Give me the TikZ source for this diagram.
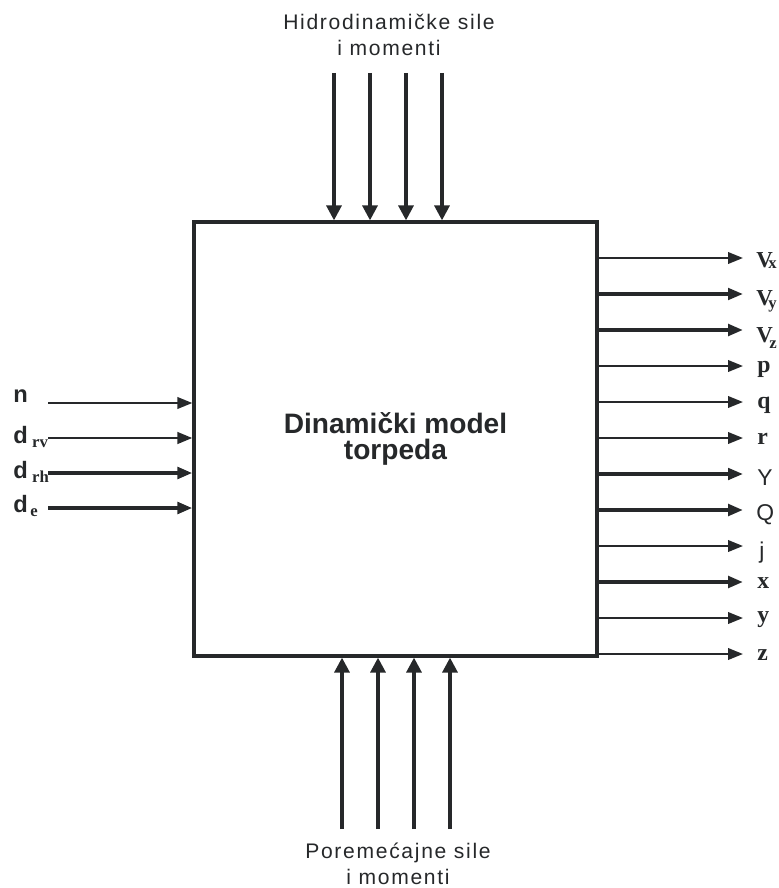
\documentclass[tikz,border=0pt]{standalone}
\usepackage{fontspec}
\setmainfont{Liberation Serif}
\setsansfont{Liberation Sans}
\newfontfamily\capfont[LetterSpace=8]{Liberation Sans}
\usetikzlibrary{arrows.meta,positioning}
\definecolor{ink}{RGB}{38,40,42}
\newcommand{\insub}[1]{\raisebox{-2.5pt}{\rmfamily\bfseries\fontsize{9.5}{9.5}\selectfont #1}}
\newcommand{\outsub}[1]{{\rmfamily\bfseries\fontsize{9.5}{9.5}\selectfont #1}}

\begin{document}
\begin{tikzpicture}[x=0.02cm,y=-0.02cm,
  sig/.style={draw=ink,line width=1.3pt,-{Triangle[length=8.5pt,width=6.5pt]}},
  sigm/.style={sig,line width=1.9pt},
  sigb/.style={sig,line width=2.5pt},
  force/.style={draw=ink,line width=1.9pt,-{Triangle[length=8.5pt,width=8.5pt]}},
  caption/.style={align=center,text=ink,font=\capfont\fontsize{12}{15}\selectfont},
  inlbl/.style={anchor=base west,text=ink,inner sep=0pt,font=\sffamily\bfseries\fontsize{13.5}{14}\selectfont},
  outlbl/.style={anchor=base west,text=ink,inner sep=0pt,font=\rmfamily\bfseries\fontsize{13.5}{14}\selectfont},
  outsym/.style={anchor=base west,text=ink,inner sep=0pt,font=\sffamily\fontsize{13}{14}\selectfont}]
  \useasboundingbox (0,0) rectangle (778,888);
  \node[draw=ink,line width=1.9pt,minimum width=8.06cm,minimum height=8.68cm,align=center,text=ink,
        font=\sffamily\bfseries\fontsize{16}{15}\selectfont] (model) at (395.5,439) {Dinamički model\\torpeda};
  % forces on top and bottom
  \node[caption] (hydro) at (389,35) {Hidrodinamičke sile\\i momenti};
  \node[caption] (dist) at (398,864) {Poremećajne sile\\i momenti};
  \coordinate (h1) at (334,73);  \coordinate (h2) at (370,73);
  \coordinate (h3) at (406,73);  \coordinate (h4) at (442,73);
  \draw[force] (h1) -- (h1 |- model.north);  \draw[force] (h2) -- (h2 |- model.north);
  \draw[force] (h3) -- (h3 |- model.north);  \draw[force] (h4) -- (h4 |- model.north);
  \coordinate (p1) at (342,829);  \coordinate (p2) at (378,829);
  \coordinate (p3) at (414,829);  \coordinate (p4) at (450,829);
  \draw[force] (p1) -- (p1 |- model.south);  \draw[force] (p2) -- (p2 |- model.south);
  \draw[force] (p3) -- (p3 |- model.south);  \draw[force] (p4) -- (p4 |- model.south);
  % inputs
  \node[inlbl] (ln) at (13,402) {n};
  \node[inlbl] (ldrv) at (13,443) {d\hspace{2.5pt}\insub{rv}};
  \node[inlbl] (ldrh) at (13,478) {d\hspace{2.5pt}\insub{rh}};
  \node[inlbl] (lde) at (13,512) {d\hspace{1.5pt}\insub{e}};
  \coordinate (i1) at (48,403);  \coordinate (i2) at (48,438);
  \coordinate (i3) at (48,473);  \coordinate (i4) at (48,508);
  \draw[sig] (i1) -- (i1 -| model.west);   \draw[sig,line width=1.6pt] (i2) -- (i2 -| model.west);
  \draw[sigb] (i3) -- (i3 -| model.west);  \draw[sigb] (i4) -- (i4 -| model.west);
  % outputs
  \coordinate (o1) at (743,258);  \coordinate (o2) at (743,294);  \coordinate (o3) at (743,330);
  \coordinate (o4) at (743,366);  \coordinate (o5) at (743,402);  \coordinate (o6) at (743,438);
  \coordinate (o7) at (743,474);  \coordinate (o8) at (743,510);  \coordinate (o9) at (743,546);
  \coordinate (o10) at (743,582); \coordinate (o11) at (743,618); \coordinate (o12) at (743,654);
  \draw[sig] (model.east |- o1) -- (o1);    \draw[sigm] (model.east |- o2) -- (o2);
  \draw[sigb] (model.east |- o3) -- (o3);   \draw[sig] (model.east |- o4) -- (o4);
  \draw[sig] (model.east |- o5) -- (o5);    \draw[sig] (model.east |- o6) -- (o6);
  \draw[sigm] (model.east |- o7) -- (o7);   \draw[sigb] (model.east |- o8) -- (o8);
  \draw[sig] (model.east |- o9) -- (o9);    \draw[sigb] (model.east |- o10) -- (o10);
  \draw[sig] (model.east |- o11) -- (o11);  \draw[sig] (model.east |- o12) -- (o12);
  \node[outlbl,font=\rmfamily\bfseries\fontsize{13}{14}\selectfont] (lvx) at (756,268) {V\hspace{-2.5pt}\raisebox{-0.5pt}{\outsub{x}}};
  \node[outlbl,font=\rmfamily\bfseries\fontsize{13}{14}\selectfont] (lvy) at (756,305) {V\hspace{-2.5pt}\raisebox{-2pt}{\outsub{y}}};
  \node[outlbl,font=\rmfamily\bfseries\fontsize{13}{14}\selectfont] (lvz) at (756,342) {V\hspace{-2pt}\raisebox{-3.5pt}{\outsub{z}}};
  \node[outlbl] (lp) at (757,372) {p};
  \node[outlbl] (lq) at (757,408) {q};
  \node[outlbl] (lr) at (757,444) {r};
  \node[outsym] (lpsi) at (757,485) {Y};
  \node[outsym] (ltheta) at (756,520) {Q};
  \node[outsym] (lphi) at (759,558) {j};
  \node[outlbl] (lx) at (757,588) {x};
  \node[outlbl] (ly) at (757,622) {y};
  \node[outlbl] (lz) at (757,660) {z};
\end{tikzpicture}
\end{document}
